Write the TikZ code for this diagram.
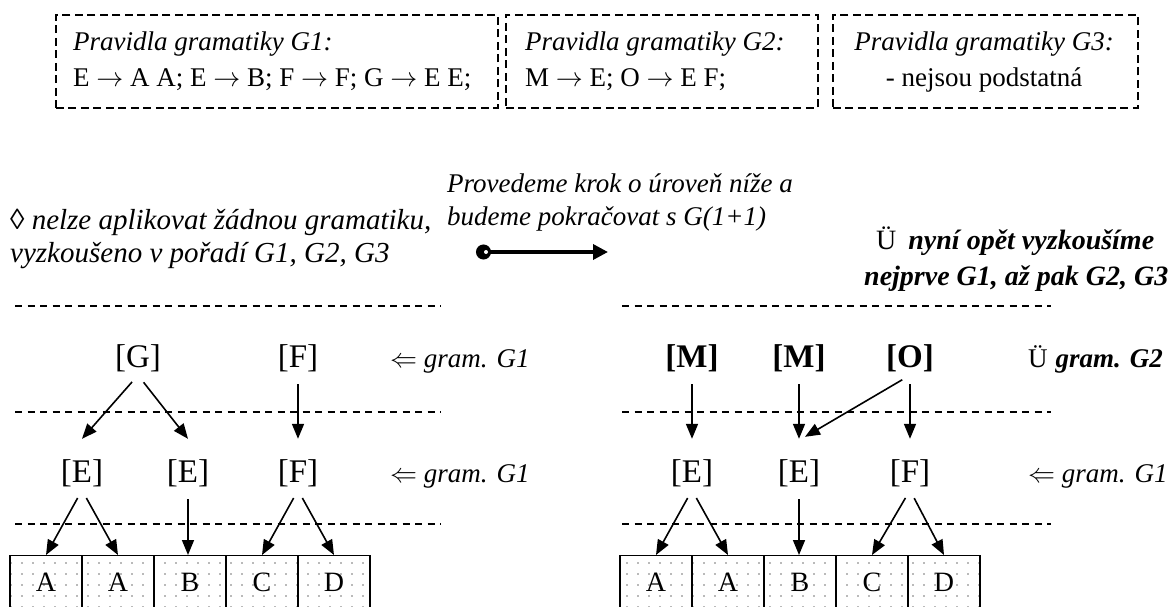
\documentclass[tikz,border=0pt]{standalone}
\usepackage{fix-cm}
\usepackage{fontspec}
\setmainfont{Liberation Serif}
\usetikzlibrary{arrows.meta,patterns.meta}

\tikzset{
  panel/.style={draw,line width=1.6pt,dash pattern=on 8pt off 4.5pt,anchor=north west},
  level/.style={line width=1.2pt,dash pattern=on 7pt off 5.5pt},
  rule/.style={inner sep=0pt,anchor=base west,font=\fontsize{27}{32}\selectfont},
  sym/.style={font=\fontsize{33}{40}\selectfont},
  leaf/.style={draw,line width=1.2pt,anchor=north,minimum width=72pt,inner sep=3pt,
    text height=33pt,text depth=21pt,pattern={Dots[distance=11pt,radius=0.9pt]},
    pattern color=black!55,font=\fontsize{28}{34}\selectfont},
  edge/.style={line width=1.6pt,-{Triangle[length=15pt,width=12pt]},shorten <=9pt},
}

\begin{document}
\begin{tikzpicture}[x=1pt,y=-1pt]
  \useasboundingbox (0,0) rectangle (1173,607);

  % grammar rules
  \node[panel,minimum width=442pt,minimum height=93pt] (p1) at (55,14) {};
  \node[panel,minimum width=312pt,minimum height=93pt] (p2) at (505,14) {};
  \node[panel,minimum width=305pt,minimum height=93pt] (p3) at (832,14) {};
  \node[rule] (p1a) at (73,51) {\itshape Pravidla gramatiky G1:};
  \node[rule] (p1b) at (73,87) {E $\rightarrow$ A A; E $\rightarrow$ B; F $\rightarrow$ F; G $\rightarrow$ E E;};
  \node[rule] (p2a) at (525,51) {\itshape Pravidla gramatiky G2:};
  \node[rule] (p2b) at (525,87) {M $\rightarrow$ E; O $\rightarrow$ E F;};
  \node[rule,anchor=base] (p3a) at (984,51) {\itshape Pravidla gramatiky G3:};
  \node[rule,anchor=base] (p3b) at (984,87) {- nejsou podstatná};

  % notes between the two trees
  \node[rule,font=\fontsize{29}{34}\selectfont] (fail1) at (10,229) {◊ \itshape nelze aplikovat žádnou gramatiku,};
  \node[rule,font=\fontsize{29}{34}\selectfont] (fail2) at (10,262) {\itshape vyzkoušeno v pořadí G1, G2, G3};
  \node[rule] (step1) at (447,193) {\itshape Provedeme krok o úroveň níže a};
  \node[rule] (step2) at (447,225) {\itshape budeme pokračovat s G(1+1)};
  \coordinate (go) at (476,252);
  \coordinate (goto) at (608,252);
  \draw[line width=3.5pt,{Circle[length=15pt]}-{Triangle[length=15pt,width=15pt]}] (go) -- (goto);
  \fill[white] (486,252) circle (2pt);
  \node[rule,font=\fontsize{28}{34}\selectfont] (again1) at (876,249) {Ü\hspace{12pt}\bfseries\itshape nyní opět vyzkoušíme};
  \node[rule,font=\fontsize{28}{34}\selectfont] (again2) at (864,285) {\bfseries\itshape nejprve G1, až pak G2, G3};

  % left tree
  \draw[level] (15,306) -- (441,306);
  \draw[level] (15,412) -- (441,412);
  \draw[level] (15,524) -- (441,524);
  \node[sym] (g) at (138,358) {[G]};
  \node[sym] (f) at (298,358) {[F]};
  \node[rule] (lab1) at (390,367) {$\Leftarrow$ \itshape gram. G1};
  \node[sym] (e1) at (82,473) {[E]};
  \node[sym] (e2) at (188,473) {[E]};
  \node[sym] (f1) at (298,473) {[F]};
  \node[rule] (lab2) at (390,482) {$\Leftarrow$ \itshape gram. G1};
  \node[leaf] (a1) at (46,555) {A};
  \node[leaf] (a2) at (118,555) {A};
  \node[leaf] (b1) at (190,555) {B};
  \node[leaf] (c1) at (262,555) {C};
  \node[leaf] (d1) at (334,555) {D};
  \draw[edge] (g.south) -- ([yshift=17pt]e1.north);
  \draw[edge] (g.south) -- ([yshift=17pt]e2.north);
  \draw[edge] (f.south) -- ([yshift=17pt]f1.north);
  \draw[edge] (e1.south) -- (a1.north);
  \draw[edge] (e1.south) -- (a2.north);
  \draw[edge] (e2.south) -- (e2.south |- b1.north);
  \draw[edge] (f1.south) -- (c1.north);
  \draw[edge] (f1.south) -- (d1.north);

  % right tree
  \draw[level] (622,306) -- (1051,306);
  \draw[level] (622,412) -- (1051,412);
  \draw[level] (622,524) -- (1051,524);
  \node[sym,font=\fontsize{33}{40}\selectfont\bfseries] (m1) at (692,358) {[M]};
  \node[sym,font=\fontsize{33}{40}\selectfont\bfseries] (m2) at (799,358) {[M]};
  \node[sym,font=\fontsize{33}{40}\selectfont\bfseries] (o) at (910,358) {[O]};
  \node[rule] (lab3) at (1028,367) {Ü\hspace{8pt}\bfseries\itshape gram. G2};
  \node[sym] (e3) at (692,473) {[E]};
  \node[sym] (e4) at (799,473) {[E]};
  \node[sym] (f2) at (910,473) {[F]};
  \node[rule] (lab4) at (1028,482) {$\Leftarrow$ \itshape gram. G1};
  \node[leaf] (a3) at (656,555) {A};
  \node[leaf] (a4) at (728,555) {A};
  \node[leaf] (b2) at (800,555) {B};
  \node[leaf] (c2) at (872,555) {C};
  \node[leaf] (d2) at (944,555) {D};
  \draw[edge] (m1.south) -- ([yshift=17pt]e3.north);
  \draw[edge] (m2.south) -- ([yshift=17pt]e4.north);
  \draw[edge] (o.south) -- ([yshift=17pt]f2.north);
  \draw[edge] (o.south) -- ([xshift=6pt,yshift=19pt]e4.north);
  \draw[edge] (e3.south) -- (a3.north);
  \draw[edge] (e3.south) -- (a4.north);
  \draw[edge] (e4.south) -- (e4.south |- b2.north);
  \draw[edge] (f2.south) -- (c2.north);
  \draw[edge] (f2.south) -- (d2.north);
\end{tikzpicture}
\end{document}
